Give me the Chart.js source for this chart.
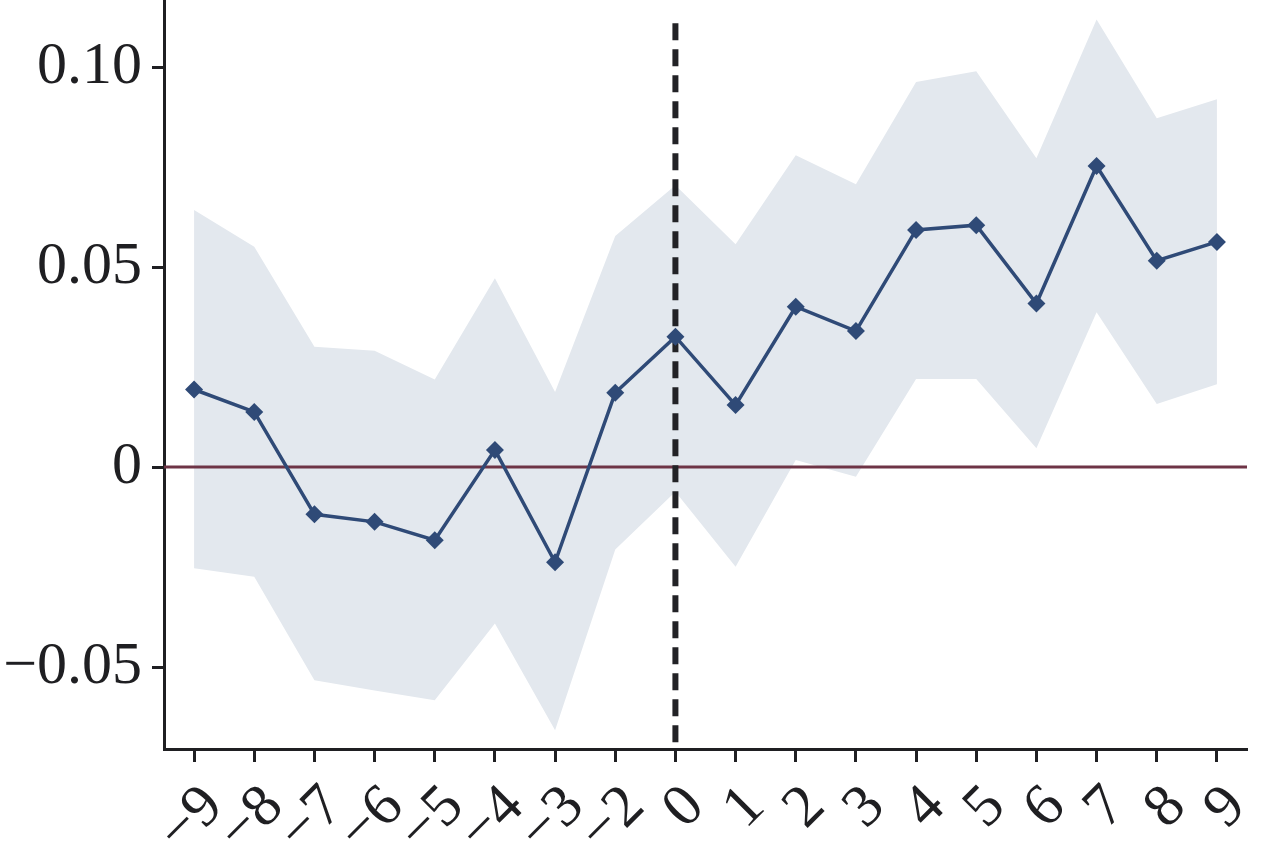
<!DOCTYPE html>
<html>
<head>
<meta charset="utf-8">
<title>Event study</title>
<script src="https://cdn.jsdelivr.net/npm/chart.js@4/dist/chart.umd.min.js"></script>
<style>
  html, body { margin: 0; padding: 0; background: #fff; }
  #wrap { width: 1267px; height: 866px; position: relative; }
</style>
</head>
<body>
<div id="wrap"><canvas id="chart"></canvas></div>
<script>
////////////////////////////////////////////////////////////////////////
// Data
const periods = ['−9', '−8', '−7', '−6', '−5', '−4', '−3', '−2', '0', '1', '2', '3', '4', '5', '6', '7', '8', '9']
const estimates = [0.0194, 0.0138, -0.0118, -0.0137, -0.0183, 0.0043, -0.0238, 0.0186, 0.0326,
    0.0155, 0.0401, 0.0340, 0.0593, 0.0605, 0.0409, 0.0753, 0.0516, 0.0563]
const ciUpper = [0.0643, 0.0551, 0.0301, 0.0291, 0.0219, 0.0472, 0.0188, 0.0578, 0.0705,
    0.0557, 0.0780, 0.0707, 0.0963, 0.0990, 0.0772, 0.1119, 0.0872, 0.0920]
const ciLower = [-0.0253, -0.0274, -0.0533, -0.0559, -0.0583, -0.0391, -0.0658, -0.0206, -0.0062,
    -0.0249, 0.0018, -0.0024, 0.0220, 0.0220, 0.0047, 0.0387, 0.0158, 0.0207]
const yTicks = [-0.05, 0, 0.05, 0.10]
const yMin = -0.0705
const yMax = 0.1168
const eventPeriod = '0'
const eventLineTop = 0.111

////////////////////////////////////////////////////////////////////////
// Styles
const FONT = "'Liberation Serif', 'Times New Roman', serif"
const INK = '#1f1f22'
const LINE_COLOR = '#2f4a77'
const BAND_COLOR = '#e3e8ee'
const ZERO_COLOR = '#6e3446'

/**
 * Formats a y tick value like the original (real minus sign, 0 alone).
 */
function formatTick(v) {
    if (Math.abs(v) < 1e-9) return '0'
    return (v < 0 ? '−' : '') + Math.abs(v).toFixed(2)
}

/**
 * Zero line and dashed event line, drawn over the band but under the estimates.
 */
const refLines = {
    id: 'refLines',
    afterDatasetDraw(chart, args) {
        if (args.index !== 1) return
        const { ctx, chartArea, scales: { x, y } } = chart
        ctx.save()
        const y0 = y.getPixelForValue(0)
        ctx.strokeStyle = ZERO_COLOR
        ctx.lineWidth = 3
        ctx.beginPath()
        ctx.moveTo(chartArea.left, y0)
        ctx.lineTo(chartArea.right, y0)
        ctx.stroke()

        const ex = x.getPixelForValue(periods.indexOf(eventPeriod))
        ctx.strokeStyle = '#222226'
        ctx.lineWidth = 6
        ctx.setLineDash([17, 9])
        ctx.beginPath()
        ctx.moveTo(ex, y.getPixelForValue(eventLineTop))
        ctx.lineTo(ex, chartArea.bottom)
        ctx.stroke()
        ctx.restore()
    }
}

/**
 * Drops the padding a scale asks for around its end labels.
 */
function noEdgePadding(scale) {
    scale.paddingTop = 0
    scale.paddingBottom = 0
    scale.paddingLeft = 0
    scale.paddingRight = 0
}

const config = {
    type: 'line',
    data: {
        labels: periods,
        datasets: [
            {
                label: 'estimate',
                data: estimates,
                order: 0,
                borderColor: LINE_COLOR,
                backgroundColor: LINE_COLOR,
                borderWidth: 3.5,
                pointStyle: 'rectRot',
                pointRadius: 9,
                pointBorderWidth: 0,
                tension: 0,
                fill: false
            },
            {
                label: 'upper',
                data: ciUpper,
                order: 1,
                borderWidth: 0,
                borderColor: 'transparent',
                backgroundColor: BAND_COLOR,
                pointRadius: 0,
                tension: 0,
                fill: '+1'
            },
            {
                label: 'lower',
                data: ciLower,
                order: 2,
                borderWidth: 0,
                borderColor: 'transparent',
                pointRadius: 0,
                tension: 0,
                fill: false
            }
        ]
    },
    options: {
        responsive: true,
        maintainAspectRatio: false,
        animation: false,
        layout: {
            autoPadding: false,
            padding: { top: 0, right: 20, bottom: 0, left: 0 }
        },
        plugins: {
            legend: { display: false },
            tooltip: { enabled: false }
        },
        scales: {
            x: {
                type: 'category',
                offset: true,
                border: { display: true, color: INK, width: 3 },
                grid: {
                    offset: false,
                    drawOnChartArea: false,
                    drawTicks: true,
                    tickLength: 13,
                    tickWidth: 3,
                    tickColor: INK
                },
                ticks: {
                    color: INK,
                    font: { family: FONT, size: 60 },
                    minRotation: 45,
                    maxRotation: 45,
                    autoSkip: false,
                    padding: 10,
                    labelOffset: 20
                },
                afterFit(scale) {
                    scale.height = 117
                    noEdgePadding(scale)
                }
            },
            y: {
                type: 'linear',
                min: yMin,
                max: yMax,
                border: { display: true, color: INK, width: 3 },
                grid: {
                    drawOnChartArea: false,
                    drawTicks: true,
                    tickLength: 12,
                    tickWidth: 3,
                    tickColor: INK
                },
                ticks: {
                    color: INK,
                    font: { family: FONT, size: 60 },
                    padding: 10,
                    callback: formatTick
                },
                afterBuildTicks(scale) {
                    scale.ticks = yTicks.map(v => ({ value: v }))
                },
                afterFit(scale) {
                    scale.width = 164
                    noEdgePadding(scale)
                }
            }
        }
    },
    plugins: [refLines]
}

new Chart(document.getElementById('chart'), config)
</script>
</body>
</html>
